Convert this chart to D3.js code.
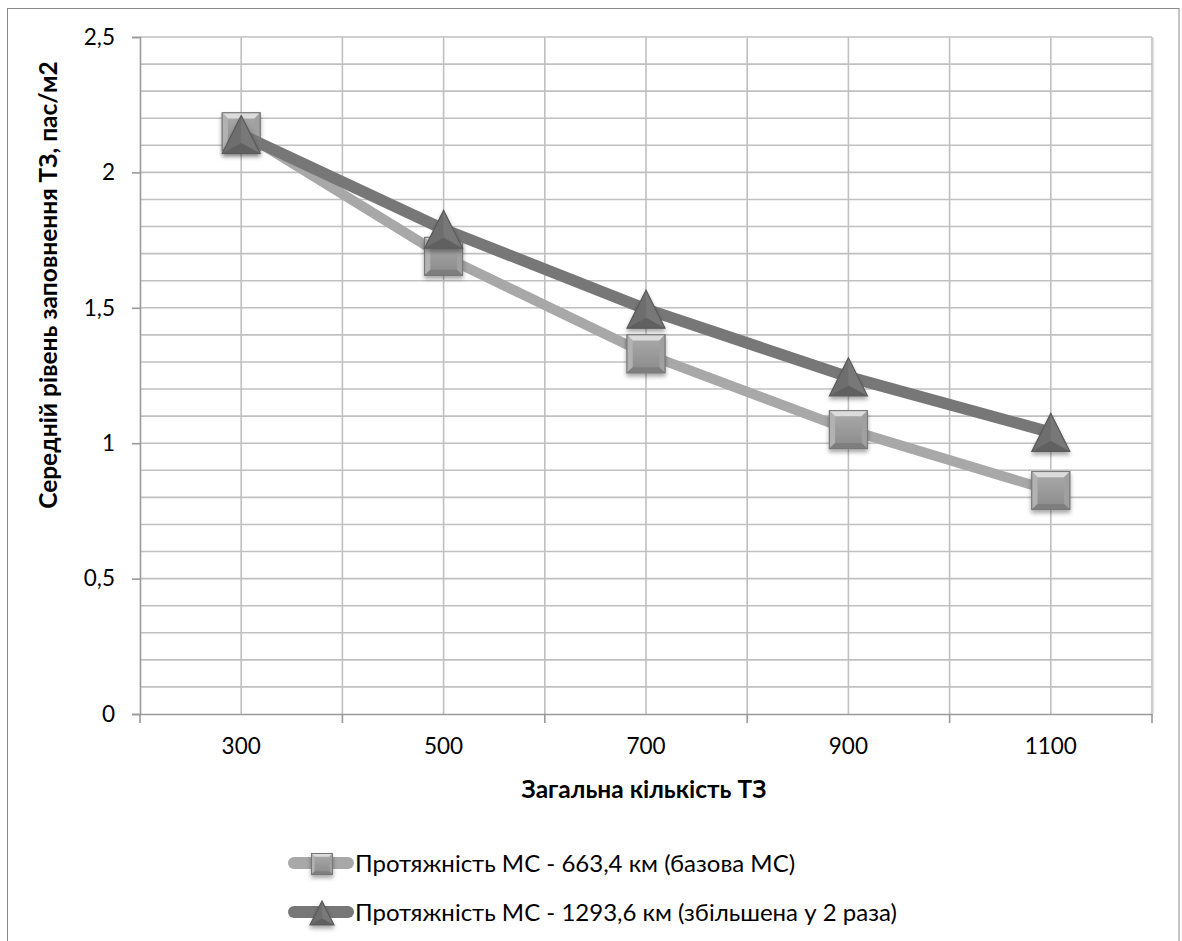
<!DOCTYPE html>
<html>
<head>
<meta charset="utf-8">
<script src="https://cdn.jsdelivr.net/npm/d3@7/dist/d3.min.js"></script>
<style>
  html, body { margin: 0; padding: 0; background: #fff; }
  svg { display: block; }
  text { font-family: Lato, "Open Sans", "Liberation Sans", sans-serif; fill: #000; }
</style>
</head>
<body>
<svg id="chart" width="1182" height="941"></svg>
<script>
// ---- data ----
const categories = ["300", "500", "700", "900", "1100"];
const seriesBase = [2.15, 1.69, 1.33, 1.05, 0.825];     // Протяжність МС - 663,4 км
const seriesDouble = [2.14, 1.79, 1.495, 1.245, 1.04];  // Протяжність МС - 1293,6 км
const yTickValues = [0, 0.5, 1, 1.5, 2, 2.5];
const yMinorValues = [0.1,0.2,0.3,0.4,0.6,0.7,0.8,0.9,1.1,1.2,1.3,1.4,1.6,1.7,1.8,1.9,2.1,2.2,2.3,2.4];
const seriesNames = [
  "Протяжність МС - 663,4 км (базова МС)",
  "Протяжність МС - 1293,6 км (збільшена у 2 раза)"
];
const xTitle = "Загальна кількість ТЗ";
const yTitle = "Середній рівень заповнення ТЗ, пас/м2";

// ---- layout ----
const svg = d3.select("#chart");
const plot = { left: 140, right: 1152, top: 37, bottom: 714 };

const x = d3.scaleBand().domain(categories).range([plot.left, plot.right]).paddingInner(0).paddingOuter(0);
const y = d3.scaleLinear().domain([0, 2.5]).range([plot.bottom, plot.top]);
const cx = c => x(c) + x.bandwidth() / 2;

// defs
const defs = svg.append("defs");
const sh = defs.append("filter").attr("id", "shadow").attr("x", "-50%").attr("y", "-50%").attr("width", "200%").attr("height", "200%");
sh.append("feDropShadow").attr("dx", 0).attr("dy", 3).attr("stdDeviation", 2.2).attr("flood-color", "#000").attr("flood-opacity", 0.35);
const g1 = defs.append("linearGradient").attr("id", "sqFill").attr("x1", 0).attr("y1", 0).attr("x2", 0).attr("y2", 1);
g1.append("stop").attr("offset", "0%").attr("stop-color", "#ababab");
g1.append("stop").attr("offset", "100%").attr("stop-color", "#8a8a8a");

// outer chart border
svg.append("rect").attr("x", 7.5).attr("y", 8.5).attr("width", 1171.5).attr("height", 1000)
  .attr("fill", "#fff").attr("stroke", "#8a8a8a").attr("stroke-width", 1);

// gridlines
const grid = svg.append("g");
const allY = yMinorValues.concat(yTickValues.filter(v => v > 0));
grid.selectAll("line.h").data(allY).join("line")
  .attr("x1", plot.left).attr("x2", plot.right)
  .attr("y1", d => y(d)).attr("y2", d => y(d))
  .attr("stroke", "#c0c0c0").attr("stroke-width", 1.6);
const vEdges = categories.map(c => x(c)).concat([x(categories[categories.length - 1]) + x.bandwidth()]).slice(1);
const vCenters = categories.map(cx);
grid.selectAll("line.v").data(vEdges.concat(vCenters)).join("line")
  .attr("x1", d => d).attr("x2", d => d)
  .attr("y1", plot.top).attr("y2", plot.bottom)
  .attr("stroke", "#c0c0c0").attr("stroke-width", 1.6);
// right-edge shadow
grid.append("line").attr("x1", plot.right + 1.5).attr("x2", plot.right + 1.5)
  .attr("y1", plot.top + 1).attr("y2", plot.bottom).attr("stroke", "#e2e2e2").attr("stroke-width", 1.2);

// axes
const yAxis = d3.axisLeft(y).tickValues(yTickValues).tickSize(8).tickPadding(17)
  .tickFormat(d => String(d).replace(".", ","));
const gy = svg.append("g").attr("transform", `translate(${plot.left},0)`).call(yAxis);
gy.select(".domain").attr("stroke", "#9a9a9a").attr("stroke-width", 1.6);
gy.selectAll(".tick line").attr("stroke", "#9a9a9a").attr("stroke-width", 1.6);
gy.selectAll(".tick text").attr("font-size", 22.5).attr("font-family", "Lato, sans-serif").attr("fill", "#000");

const xAxis = d3.axisBottom(x).tickSize(0).tickPadding(24);
const gx = svg.append("g").attr("transform", `translate(0,${plot.bottom})`).call(xAxis);
gx.select(".domain").attr("stroke", "#9a9a9a").attr("stroke-width", 1.6);
gx.selectAll(".tick text").attr("font-size", 22.5).attr("font-family", "Lato, sans-serif").attr("fill", "#000");
// boundary tick marks
const edges = categories.map(c => x(c)).concat([plot.right]);
gx.selectAll("line.edge").data(edges).join("line").attr("class", "edge")
  .attr("x1", d => d).attr("x2", d => d).attr("y1", 0).attr("y2", 9)
  .attr("stroke", "#9a9a9a").attr("stroke-width", 1.6);

// titles
svg.append("text").attr("x", 644).attr("y", 798).attr("text-anchor", "middle")
  .attr("font-size", 24.5).attr("font-weight", "bold").text(xTitle);
svg.append("text").attr("transform", "translate(57,285) rotate(-90)").attr("text-anchor", "middle")
  .attr("font-size", 24.5).attr("font-weight", "bold").text(yTitle);

// marker drawers
function drawSquare(g, px, py, s) {
  const h = s / 2, b = s * 0.15;
  const m = g.append("g").attr("filter", "url(#shadow)");
  m.append("rect").attr("x", px - h).attr("y", py - h).attr("width", s).attr("height", s)
    .attr("fill", "url(#sqFill)").attr("stroke", "#7a7a7a").attr("stroke-width", 1);
  const P = (pts) => pts.map(p => p.join(",")).join(" ");
  const o = [[px - h, py - h], [px + h, py - h], [px + h, py + h], [px - h, py + h]];
  const i = [[px - h + b, py - h + b], [px + h - b, py - h + b], [px + h - b, py + h - b], [px - h + b, py + h - b]];
  m.append("polygon").attr("points", P([o[0], o[1], i[1], i[0]])).attr("fill", "#dcdcdc");
  m.append("polygon").attr("points", P([o[0], i[0], i[3], o[3]])).attr("fill", "#b2b2b2");
  m.append("polygon").attr("points", P([o[1], o[2], i[2], i[1]])).attr("fill", "#a0a0a0");
  m.append("polygon").attr("points", P([o[3], i[3], i[2], o[2]])).attr("fill", "#7e7e7e");
  m.append("rect").attr("x", px - h).attr("y", py - h).attr("width", s).attr("height", s)
    .attr("fill", "none").attr("stroke", "#777").attr("stroke-width", 1);
}
function drawTriangle(g, px, py, s) {
  const h = s / 2;
  const top = [px, py - h], bl = [px - h, py + h], br = [px + h, py + h], c = [px, py + h * 0.45];
  const P = (pts) => pts.map(p => p.join(",")).join(" ");
  const m = g.append("g").attr("filter", "url(#shadow)");
  m.append("polygon").attr("points", P([top, bl, br])).attr("fill", "#707070");
  m.append("polygon").attr("points", P([top, bl, c])).attr("fill", "#6e6e6e");
  m.append("polygon").attr("points", P([top, br, c])).attr("fill", "#787878");
  m.append("polygon").attr("points", P([bl, br, c])).attr("fill", "#616161");
  m.append("polygon").attr("points", P([top, bl, br])).attr("fill", "none").attr("stroke", "#5a5a5a").attr("stroke-width", 1.2).attr("stroke-linejoin", "miter");
}

const line = d3.line().x(d => cx(d.c)).y(d => y(d.v));
const series = [
  { values: seriesBase, color: "#a8a8a8", width: 10, marker: drawSquare },
  { values: seriesDouble, color: "#777777", width: 11.5, marker: drawTriangle }
];
series.forEach(s => {
  const pts = categories.map((c, i) => ({ c, v: s.values[i] }));
  const g = svg.append("g");
  g.append("path").datum(pts).attr("d", line).attr("fill", "none")
    .attr("stroke", s.color).attr("stroke-width", s.width)
    .attr("stroke-linejoin", "round").attr("stroke-linecap", "butt");
  pts.forEach(p => s.marker(g, cx(p.c), y(p.v), 38));
});

// legend
const legendRows = [863, 912];
series.forEach((s, i) => {
  const ly = legendRows[i];
  const g = svg.append("g");
  g.append("line").attr("x1", 294).attr("x2", 348).attr("y1", ly).attr("y2", ly)
    .attr("stroke", s.color).attr("stroke-width", 12).attr("stroke-linecap", "round");
  s.marker(g, 322, ly + 1, i === 0 ? 21 : 24);
  g.append("text").attr("x", 355).attr("y", ly).attr("dy", "0.36em")
    .attr("font-size", 24).text(seriesNames[i]);
});
</script>
</body>
</html>
